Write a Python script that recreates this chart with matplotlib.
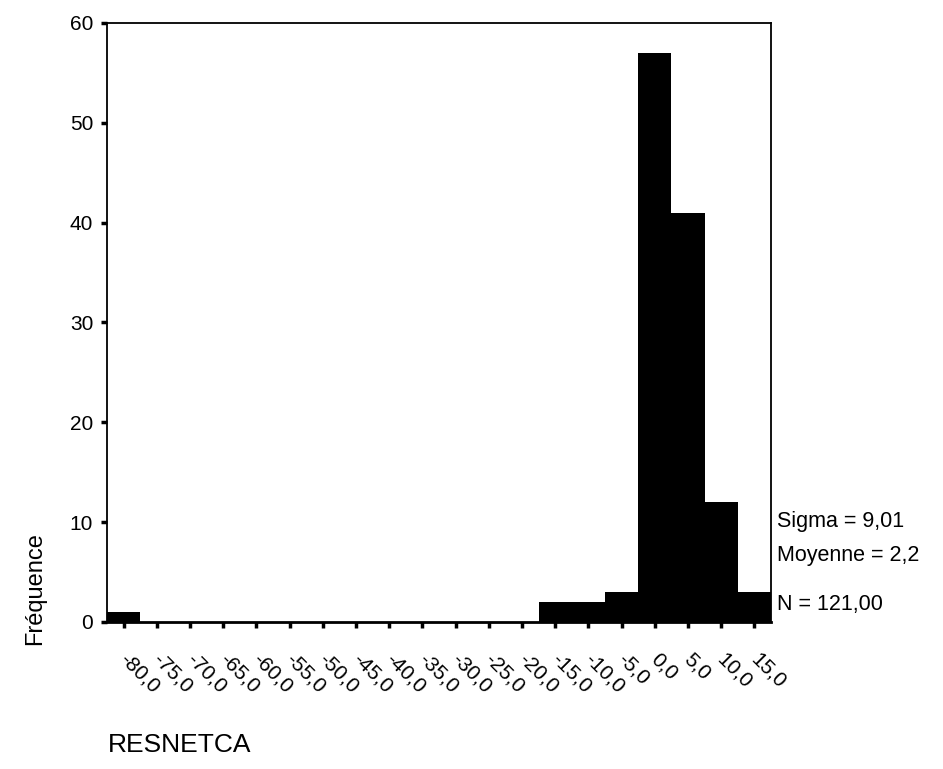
import numpy as np
import matplotlib.pyplot as plt
import matplotlib.transforms as mtransforms

plt.rcParams['font.family'] = ['Liberation Sans', 'DejaVu Sans']

# bin centres and counts
bin_centers = [-80, -75, -70, -65, -60, -55, -50, -45, -40, -35,
               -30, -25, -20, -15, -10, -5, 0, 5, 10, 15]
counts = [1, 0, 0, 0, 0, 0, 0, 0, 0, 0,
          0, 0, 0, 2, 2, 3, 57, 41, 12, 3]
tick_labels = [f"{v:.1f}".replace(".", ",") for v in bin_centers]
y_ticks = [0, 10, 20, 30, 40, 50, 60]
stats_text = ["Sigma = 9,01", "Moyenne = 2,2", "N = 121,00"]

fig = plt.figure(figsize=(9.43, 7.69), dpi=100)
ax = fig.add_axes([0.1135, 0.1912, 0.7041, 0.7789])

ax.bar(bin_centers, counts, width=5, color='black', edgecolor='none')
ax.set_xlim(-82.5, 17.5)
ax.set_ylim(0, 60)

ax.set_yticks(y_ticks)
ax.set_yticklabels([str(t) for t in y_ticks], fontsize=15)
ax.set_xticks(bin_centers)
ax.set_xticklabels(tick_labels, fontsize=15, rotation=-45,
                   ha='left', va='top', rotation_mode='anchor')
ax.tick_params(axis='y', direction='out', length=4, width=2.5, pad=6)
ax.tick_params(axis='x', direction='out', length=4, width=2.5, pad=16)

# shift x labels a bit to the right of their ticks
offset = mtransforms.ScaledTranslation(6 / 100, 0, fig.dpi_scale_trans)
for lbl in ax.get_xticklabels():
    lbl.set_transform(lbl.get_transform() + offset)

for s in ax.spines.values():
    s.set_linewidth(1.3)
ax.spines['bottom'].set_linewidth(2)

# statistics text
for txt, y in zip(stats_text, [0.322, 0.278, 0.214]):
    fig.text(0.824, y, txt, fontsize=15.5, va='center', ha='left')

fig.text(0.037, 0.235, "Fréquence", fontsize=17, rotation=90,
         va='center', ha='center')
fig.text(0.1145, 0.031, "RESNETCA", fontsize=19, va='center', ha='left')

fig.savefig("out.png", dpi=100)
